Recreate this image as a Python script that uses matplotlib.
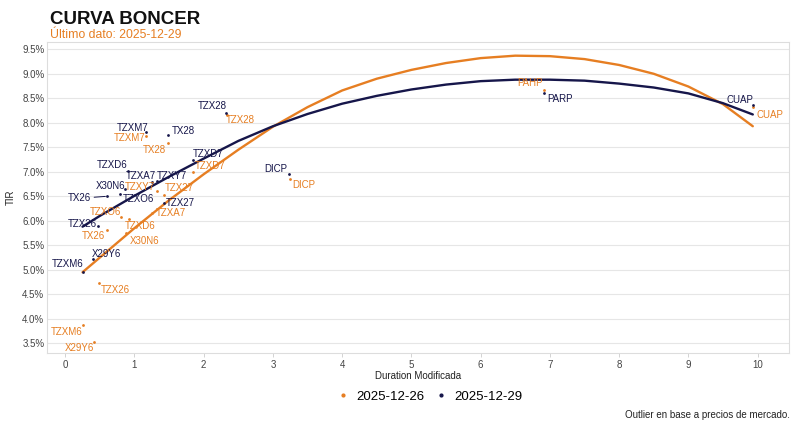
import matplotlib
matplotlib.use("Agg")
import matplotlib.pyplot as plt
from matplotlib.lines import Line2D

plt.rcParams['font.family'] = ['Liberation Sans', 'DejaVu Sans']

# ---------------- data ----------------
tickers = ["TZXM6", "X29Y6", "TZX26", "TX26", "TZXO6", "X30N6", "TZXD6", "TZXM7",
           "TZXA7", "TZXY7", "TZX27", "TX28", "TZXD7", "TZX28", "DICP", "PARP", "CUAP"]
dur_29 = [0.25, 0.40, 0.48, 0.60, 0.79, 0.87, 0.90, 1.17, 1.25, 1.32, 1.42, 1.49, 1.84, 2.32, 3.23, 6.92, 9.93]
tir_29 = [4.95, 5.23, 5.90, 6.50, 6.55, 6.64, 7.02, 7.82, 6.80, 6.81, 6.36, 7.75, 7.25, 8.19, 6.95, 8.61, 8.36]
dur_26 = [0.25, 0.41, 0.49, 0.60, 0.80, 0.88, 0.92, 1.17, 1.26, 1.33, 1.43, 1.49, 1.84, 2.33, 3.24, 6.91, 9.94]
tir_26 = [3.88, 3.52, 4.73, 5.82, 6.07, 5.76, 6.04, 7.73, 6.15, 6.60, 6.52, 7.58, 7.00, 8.15, 6.85, 8.67, 8.32]
labels_26 = ["TZXM6", "X29Y6", "TZX26", "TX26", "TZXO6", "X30N6", "TZXD6", "TZXM7",
             "TZXA7", "TZXY7", "TZX27", "TX28", "TZXD7", "TZX28", "DICP", "PAHP", "CUAP"]

curve_x_26 = [0.25, 0.5, 1.0, 1.5, 2.0, 2.5, 3.0, 3.5, 4.0, 4.5, 5.0, 5.5, 6.0, 6.5,
              7.0, 7.5, 8.0, 8.5, 9.0, 9.5, 9.93]
curve_y_26 = [4.95, 5.25, 5.85, 6.42, 6.95, 7.45, 7.92, 8.32, 8.66, 8.90, 9.08, 9.22, 9.32, 9.37,
              9.36, 9.30, 9.18, 9.00, 8.74, 8.38, 7.93]
curve_x_29 = [0.25, 0.5, 1.0, 1.5, 2.0, 2.5, 3.0, 3.5, 4.0, 4.5, 5.0, 5.5, 6.0, 6.5,
              7.0, 7.5, 8.0, 8.5, 9.0, 9.5, 9.93]
curve_y_29 = [5.88, 6.10, 6.51, 6.90, 7.27, 7.63, 7.93, 8.18, 8.39, 8.55, 8.68, 8.78, 8.85, 8.88,
              8.88, 8.86, 8.80, 8.72, 8.60, 8.40, 8.17]

date_26 = "2025-12-26"
date_29 = "2025-12-29"
yticks = [3.5, 4.0, 4.5, 5.0, 5.5, 6.0, 6.5, 7.0, 7.5, 8.0, 8.5, 9.0, 9.5]
xticks = [0, 1, 2, 3, 4, 5, 6, 7, 8, 9, 10]

# ---------------- styles / positions ----------------
ORANGE = "#E67E22"
NAVY = "#16164A"

# label offsets in pixels (dx right, dy up) relative to point
off_29 = {"TZXM6": (-15, 8), "X29Y6": (14, 5), "TZX26": (-16, 2), "TX26": (-27, -2),
          "TZXO6": (19, -5), "X30N6": (-15, 3), "TZXD6": (-15, 6), "TZXM7": (-14, 4),
          "TZXA7": (-11, 6), "TZXY7": (15, 5), "TZX27": (17, 0), "TX28": (15, 4),
          "TZXD7": (15, 6), "TZX28": (-14, 7), "DICP": (-13, 5), "PARP": (16, -6),
          "CUAP": (-13, 5)}
off_26 = {"TZXM6": (-16, -7), "X29Y6": (-14, -6), "TZX26": (16, -7), "TX26": (-13, -6),
          "TZXO6": (-15, 5), "X30N6": (18, -8), "TZXD6": (11, -7), "TZXM7": (-17, -2),
          "TZXA7": (18, 0), "TZXY7": (-17, 4), "TZX27": (15, 7), "TX28": (-14, -7),
          "TZXD7": (17, 6), "TZX28": (14, -5), "DICP": (14, -6), "PAHP": (-14, 7),
          "CUAP": (16, -8)}

fig = plt.figure(figsize=(8.0, 4.37), dpi=100)
ax = fig.add_axes([0.059, 0.192, 0.927, 0.712])

ax.set_xlim(-0.26, 10.45)
ax.set_ylim(3.30, 9.65)

ax.plot(curve_x_26, curve_y_26, color=ORANGE, lw=1.7, zorder=2, solid_capstyle='round')
ax.plot(curve_x_29, curve_y_29, color=NAVY, lw=1.7, zorder=2, solid_capstyle='round')

ax.scatter(dur_26, tir_26, s=4, color=ORANGE, zorder=3, linewidths=0)
ax.scatter(dur_29, tir_29, s=4, color=NAVY, zorder=3, linewidths=0)

for t, x, y in zip(labels_26, dur_26, tir_26):
    dx, dy = off_26[t]
    ax.annotate(t, (x, y), xytext=(dx, dy), textcoords='offset pixels',
                ha='center', va='center', fontsize=7, color=ORANGE, zorder=4)
for t, x, y in zip(tickers, dur_29, tir_29):
    dx, dy = off_29[t]
    if t == "TX26":
        ax.annotate(t, (x, y), xytext=(dx, dy), textcoords='offset pixels',
                    ha='center', va='center', fontsize=7, color=NAVY, zorder=4,
                    arrowprops=dict(arrowstyle='-', color=NAVY, lw=0.7,
                                    shrinkA=12, shrinkB=1))
    else:
        ax.annotate(t, (x, y), xytext=(dx, dy), textcoords='offset pixels',
                    ha='center', va='center', fontsize=7, color=NAVY, zorder=4)

ax.set_yticks(yticks)
ax.set_yticklabels([f"{v:.1f}%" for v in yticks])
ax.set_xticks(xticks)
ax.tick_params(axis='both', labelsize=7, colors='#444444', length=3, width=0.6,
               color='#cccccc')
ax.tick_params(axis='x', pad=2)
ax.tick_params(axis='y', length=0, pad=2)
ax.grid(axis='y', color='#e6e6e6', lw=0.8)
ax.set_axisbelow(True)
for s in ax.spines.values():
    s.set_color('#dddddd')
    s.set_linewidth(0.8)

ax.set_xlabel("Duration Modificada", fontsize=7, color='#222222', labelpad=1)
ax.set_ylabel("TIR", fontsize=7, color='#222222')
ax.yaxis.set_label_coords(-0.042, 0.5)

fig.text(0.0625, 0.955, "CURVA BONCER", fontsize=13.5, fontweight='bold',
         color='#111111', ha='left', va='center')
fig.text(0.0625, 0.921, "Último dato: " + date_29, fontsize=8.8, color=ORANGE,
         ha='left', va='center')

handles = [Line2D([], [], marker='o', ls='', color=ORANGE, markersize=2.0),
           Line2D([], [], marker='o', ls='', color=NAVY, markersize=2.0)]
fig.legend(handles, [date_26, date_29], loc='center', bbox_to_anchor=(0.537, 0.092),
           ncol=2, frameon=False, fontsize=9.5, handletextpad=0.5, columnspacing=0.8,
           handlelength=1.0)

fig.text(0.987, 0.05, "Outlier en base a precios de mercado.", fontsize=7,
         color='#222222', ha='right', va='center')

fig.savefig("out.png", dpi=100)
